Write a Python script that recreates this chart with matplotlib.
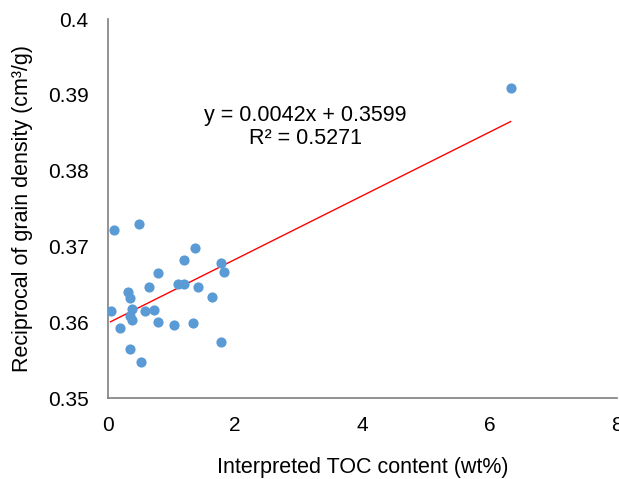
import matplotlib

matplotlib.use("Agg")

import matplotlib.pyplot as plt
import numpy as np

plt.rcParams["font.family"] = ["Liberation Sans", "DejaVu Sans"]

# interpreted TOC (wt%) vs reciprocal of grain density (cm3/g)
toc = [6.33, 0.10, 0.49, 1.37, 1.19, 0.78, 1.78, 1.82, 1.10, 1.19,
       1.41, 0.65, 0.32, 0.34, 1.64, 0.04, 0.37, 0.58, 0.72, 0.34,
       0.38, 0.78, 1.04, 1.34, 0.19, 1.77, 0.34, 0.52]
inv_density = [0.3909, 0.3722, 0.3730, 0.3698, 0.3682, 0.3665, 0.3678, 0.3667,
               0.3650, 0.3650, 0.3647, 0.3646, 0.3640, 0.3632, 0.3634, 0.3615,
               0.3618, 0.3615, 0.3616, 0.3608, 0.3603, 0.3600, 0.3596, 0.3599,
               0.3592, 0.3574, 0.3565, 0.3547]

slope = 0.0042
intercept = 0.3599
r2 = 0.5271

x_ticks = [0, 2, 4, 6, 8]
y_ticks = [0.35, 0.36, 0.37, 0.38, 0.39, 0.4]
y_tick_labels = ["0.35", "0.36", "0.37", "0.38", "0.39", "0.4"]

fig = plt.figure(figsize=(6.19, 4.79), dpi=100)
ax = fig.add_axes([0.1745, 0.169, 0.822, 0.791])

ax.scatter(toc, inv_density, s=54, color="#5B9BD5", zorder=3, linewidths=0)

fit_x = np.array([min(toc), max(toc)])
ax.plot(fit_x, slope * fit_x + intercept, color="#FF0000", lw=1.0, zorder=2)

ax.text(3.10, 0.3873, f"y = {slope}x + {intercept}", fontsize=15.5,
        ha="center", va="center")
ax.text(3.10, 0.3843, f"R² = {r2}", fontsize=15.5, ha="center", va="center")

ax.set_xlim(0, 8)
ax.set_ylim(0.35, 0.4)
ax.set_xticks(x_ticks)
ax.set_yticks(y_ticks)
ax.set_yticklabels(y_tick_labels)
ax.tick_params(length=0, labelsize=15, colors="#000000")
ax.tick_params(axis="y", pad=14)
ax.tick_params(axis="x", pad=13)

for side in ("top", "right"):
    ax.spines[side].set_visible(False)
for side in ("left", "bottom"):
    ax.spines[side].set_color("#7f7f7f")
    ax.spines[side].set_linewidth(1.2)

ax.set_xlabel("Interpreted TOC content (wt%)", fontsize=15.5, labelpad=16)
ax.set_ylabel("Reciprocal of grain density (cm³/g)", fontsize=15.5, labelpad=11)

fig.savefig("out.png", dpi=100)
plt.close(fig)
